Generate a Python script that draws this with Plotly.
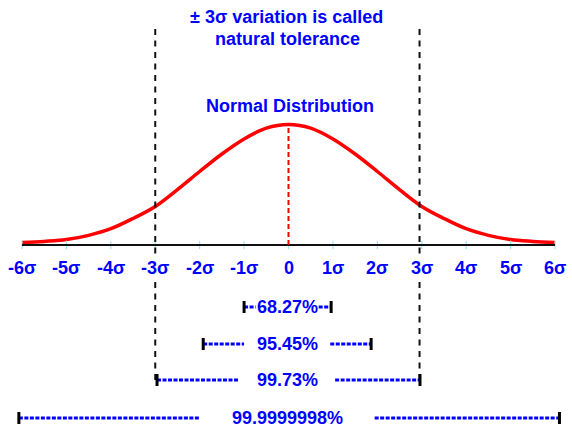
import plotly.graph_objects as go

# ---------------- data ----------------
sigma_pos = [-6, -5, -4, -3, -2, -1, 0, 1, 2, 3, 4, 5, 6]
sigma_labels = ["-6σ", "-5σ", "-4σ", "-3σ", "-2σ", "-1σ", "0",
                "1σ", "2σ", "3σ", "4σ", "5σ", "6σ"]

curve_x = [-6, -5.5, -5, -4.5, -4, -3.5, -3, -2.5, -2, -1.5, -1, -0.5, 0,
           0.5, 1, 1.5, 2, 2.5, 3, 3.5, 4, 4.5, 5, 5.5, 6]
curve_y = [0.02, 0.03, 0.045, 0.08, 0.135, 0.22, 0.32, 0.46, 0.61, 0.755, 0.88, 0.97, 1.0,
           0.97, 0.88, 0.755, 0.61, 0.46, 0.32, 0.22, 0.135, 0.08, 0.045, 0.03, 0.02]

tol_x = [-3.0, 2.95]          # natural tolerance limits (±3σ)

band_labels = ["68.27%", "95.45%", "99.73%", "99.9999998%"]
band_lo = [-1.0, -1.92, -2.96, -6.07]
band_hi = [0.96, 1.86, 2.96, 6.1]

# ---------------- layout constants ----------------
W, H = 572, 428
X0PX, XSCALE = 288.5, 44.42       # px of 0, px per sigma
Y0PX, YSCALE = 245.0, 120.5       # px of baseline, px per unit height


def vy(py):
    return (Y0PX - py) / YSCALE


BLUE = "#0000ff"
FONT = "Liberation Sans"
band_rows = [vy(307), vy(344), vy(380), vy(418)]
band_gap = [0.71, 0.97, 1.08, 1.97]   # half gap around label (sigma units)
band_tick_w = [3, 3, 3, 3]
text_cx = -0.03

fig = go.Figure()

shapes = []
annotations = []

# axis line
shapes.append(dict(type="line", xref="x", yref="y", x0=-6, x1=6, y0=0, y1=0,
                   line=dict(color="#111111", width=2)))

# natural tolerance dashed lines
for xv in tol_x:
    shapes.append(dict(type="line", xref="x", yref="y", x0=xv, x1=xv,
                       y0=vy(29), y1=vy(380),
                       line=dict(color="#111111", width=2, dash="6px,5.5px")))

# mean dashed red line
shapes.append(dict(type="line", xref="x", yref="y", x0=0, x1=0, y0=0, y1=1.0,
                   line=dict(color="#ff0000", width=2, dash="5px,3px")))

# bands
for lab, lo, hi, yr, g, tw in zip(band_labels, band_lo, band_hi, band_rows, band_gap, band_tick_w):
    for a, b in [(lo, text_cx - g), (text_cx + g, hi)]:
        shapes.append(dict(type="line", xref="x", yref="y", x0=a, x1=b, y0=yr, y1=yr,
                           line=dict(color=BLUE, width=3, dash="4px,1.5px")))
    for xv in (lo, hi):
        shapes.append(dict(type="line", xref="x", yref="y", x0=xv, x1=xv,
                           y0=yr - 6 / YSCALE, y1=yr + 6 / YSCALE,
                           line=dict(color="#000000", width=tw)))
    annotations.append(dict(x=text_cx, y=yr, xref="x", yref="y", text="<b>%s</b>" % lab,
                            showarrow=False, xanchor="center", yanchor="middle",
                            font=dict(family=FONT, size=18, color=BLUE)))

# curve
fig.add_trace(go.Scatter(x=curve_x, y=curve_y, mode="lines", line_shape="spline",
                         line=dict(color="#ff0000", width=3.5), hoverinfo="skip"))

# tick marks
fig.add_trace(go.Scatter(x=sigma_pos, y=[0] * len(sigma_pos), mode="markers",
                         marker=dict(symbol="line-ns-open", size=6, color="#a8e4ee",
                                     line=dict(color="#a8e4ee", width=1.2)),
                         hoverinfo="skip"))

# tick labels
for xv, lab in zip(sigma_pos, sigma_labels):
    annotations.append(dict(x=xv, y=vy(268), xref="x", yref="y", text="<b>%s</b>" % lab,
                            showarrow=False, xanchor="center", yanchor="middle",
                            bgcolor="white", borderpad=0,
                            font=dict(family=FONT, size=18, color=BLUE)))

# titles
annotations.append(dict(x=(286.5 - X0PX) / XSCALE, y=vy(17), xref="x", yref="y",
                        text="<b>± 3σ variation is called</b>", showarrow=False,
                        xanchor="center", yanchor="middle",
                        font=dict(family=FONT, size=18, color=BLUE)))
annotations.append(dict(x=(287.5 - X0PX) / XSCALE, y=vy(39), xref="x", yref="y",
                        text="<b>natural tolerance</b>", showarrow=False,
                        xanchor="center", yanchor="middle",
                        font=dict(family=FONT, size=18, color=BLUE)))
annotations.append(dict(x=(290 - X0PX) / XSCALE, y=vy(106), xref="x", yref="y",
                        text="<b>Normal Distribution</b>", showarrow=False,
                        xanchor="center", yanchor="middle",
                        font=dict(family=FONT, size=18, color=BLUE)))

fig.update_layout(
    width=W, height=H, margin=dict(l=0, r=0, t=0, b=0),
    paper_bgcolor="white", plot_bgcolor="white", showlegend=False,
    xaxis=dict(range=[-X0PX / XSCALE, (W - X0PX) / XSCALE], visible=False, fixedrange=True),
    yaxis=dict(range=[vy(H), vy(0)], visible=False, fixedrange=True),
    shapes=shapes, annotations=annotations,
)

fig.write_html("out.html", config={"displayModeBar": False},
               post_script="document.body.style.margin='0px';document.body.style.overflow='hidden';")
